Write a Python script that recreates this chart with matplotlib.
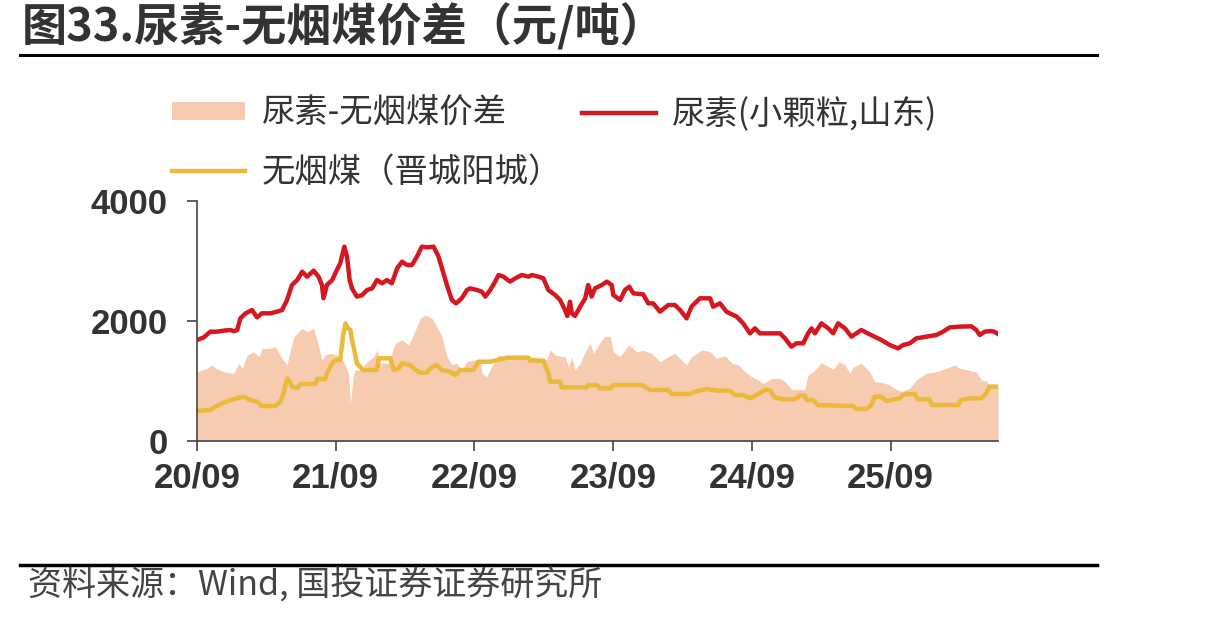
import matplotlib
matplotlib.use('Agg')
import matplotlib.pyplot as plt
import matplotlib.dates as mdates
from matplotlib.patches import Rectangle
from matplotlib.lines import Line2D
import pandas as pd

# 尿素(小颗粒,山东) 元/吨
urea_dates = ['2020-09-01', '2020-09-19', '2020-10-06', '2020-10-24', '2020-11-10', '2020-11-28', '2020-12-07', '2020-12-16',
              '2020-12-24', '2021-01-07', '2021-01-24', '2021-02-06', '2021-02-19', '2021-03-13', '2021-03-31', '2021-04-13',
              '2021-04-26', '2021-05-09', '2021-05-23', '2021-06-05', '2021-06-18', '2021-07-05', '2021-07-18', '2021-07-27',
              '2021-07-31', '2021-08-09', '2021-08-23', '2021-08-31', '2021-09-13', '2021-09-24', '2021-10-01', '2021-10-08',
              '2021-10-14', '2021-10-27', '2021-11-09', '2021-11-23', '2021-12-06', '2021-12-19', '2022-01-01', '2022-01-14',
              '2022-01-27', '2022-02-10', '2022-02-23', '2022-03-08', '2022-03-21', '2022-04-03', '2022-04-16', '2022-04-29',
              '2022-05-17', '2022-05-30', '2022-06-12', '2022-06-21', '2022-07-04', '2022-07-15', '2022-07-30', '2022-08-13',
              '2022-08-21', '2022-09-08', '2022-09-21', '2022-09-30', '2022-10-13', '2022-10-26', '2022-11-04', '2022-11-17',
              '2022-12-04', '2022-12-18', '2023-01-04', '2023-01-22', '2023-01-31', '2023-02-17', '2023-03-02', '2023-03-15',
              '2023-04-02', '2023-04-15', '2023-04-28', '2023-05-04', '2023-05-11', '2023-05-16', '2023-05-24', '2023-06-07',
              '2023-06-20', '2023-06-28', '2023-07-07', '2023-07-16', '2023-08-03', '2023-08-16', '2023-08-29', '2023-09-02',
              '2023-09-20', '2023-10-03', '2023-10-14', '2023-10-25', '2023-11-20', '2023-12-03', '2023-12-16', '2024-01-03',
              '2024-01-25', '2024-02-11', '2024-02-25', '2024-03-13', '2024-03-26', '2024-04-17', '2024-05-14', '2024-05-22',
              '2024-06-09', '2024-06-26', '2024-07-23', '2024-08-09', '2024-08-27', '2024-09-09', '2024-09-22', '2024-10-18',
              '2024-11-14', '2024-11-27', '2024-12-14', '2024-12-27', '2025-01-14', '2025-01-27', '2025-02-05', '2025-02-14',
              '2025-03-03', '2025-03-21', '2025-04-03', '2025-04-16', '2025-05-04', '2025-05-21', '2025-06-03', '2025-06-16',
              '2025-07-03', '2025-07-21', '2025-08-08', '2025-08-30', '2025-09-21', '2025-10-04', '2025-10-22', '2025-11-08',
              '2025-12-04', '2025-12-31', '2026-01-17', '2026-02-04', '2026-03-02', '2026-04-02', '2026-04-15', '2026-04-24',
              '2026-05-07', '2026-05-24', '2026-06-02', '2026-06-11']
urea_price = [1683, 1728, 1822, 1822, 1839, 1850, 1830, 1850,
              2044, 2128, 2183, 2061, 2128, 2128, 2156, 2183,
              2350, 2600, 2683, 2822, 2739, 2839, 2739, 2600,
              2378, 2600, 2683, 2794, 2961, 3239, 3072, 2683,
              2544, 2406, 2428, 2517, 2544, 2683, 2628, 2683,
              2628, 2878, 2989, 2933, 2933, 3072, 3239, 3228,
              3239, 3072, 2794, 2600, 2350, 2294, 2378, 2517,
              2544, 2517, 2489, 2406, 2517, 2656, 2767, 2739,
              2656, 2711, 2767, 2739, 2767, 2739, 2711, 2517,
              2433, 2350, 2183, 2083, 2322, 2128, 2083, 2239,
              2378, 2600, 2406, 2544, 2600, 2656, 2600, 2433,
              2350, 2517, 2572, 2461, 2444, 2294, 2294, 2156,
              2267, 2267, 2183, 2044, 2239, 2378, 2378, 2239,
              2294, 2156, 2072, 1961, 1794, 1878, 1794, 1794,
              1794, 1711, 1572, 1628, 1628, 1794, 1878, 1794,
              1961, 1878, 1794, 1961, 1878, 1739, 1794, 1850,
              1794, 1739, 1683, 1600, 1544, 1600, 1628, 1711,
              1739, 1767, 1822, 1894, 1906, 1911, 1850, 1767,
              1822, 1833, 1820, 1783]

# 无烟煤(晋城阳城) 元/吨
coal_dates = ['2020-09-01', '2020-10-06', '2020-10-20', '2020-11-02', '2020-11-24', '2020-12-16', '2021-01-02', '2021-01-20',
              '2021-02-06', '2021-02-19', '2021-03-26', '2021-04-09', '2021-04-17', '2021-04-26', '2021-05-03', '2021-05-09',
              '2021-05-23', '2021-05-31', '2021-07-10', '2021-07-14', '2021-08-05', '2021-08-09', '2021-08-23', '2021-08-31',
              '2021-09-13', '2021-09-21', '2021-09-27', '2021-10-03', '2021-10-10', '2021-10-14', '2021-10-20', '2021-10-27',
              '2021-11-04', '2021-11-13', '2021-12-19', '2021-12-23', '2022-01-23', '2022-02-01', '2022-02-14', '2022-02-23',
              '2022-03-16', '2022-03-30', '2022-04-12', '2022-04-29', '2022-05-08', '2022-05-25', '2022-06-07', '2022-06-29',
              '2022-07-13', '2022-07-26', '2022-08-30', '2022-09-12', '2022-10-13', '2022-11-26', '2023-01-22', '2023-01-26',
              '2023-03-02', '2023-03-15', '2023-03-20', '2023-04-15', '2023-04-19', '2023-06-24', '2023-06-28', '2023-07-21',
              '2023-07-29', '2023-08-25', '2023-09-02', '2023-11-16', '2023-12-08', '2024-01-25', '2024-02-03', '2024-03-21',
              '2024-04-04', '2024-05-05', '2024-05-31', '2024-07-05', '2024-07-18', '2024-08-09', '2024-08-27', '2024-09-13',
              '2024-10-05', '2024-10-18', '2024-10-31', '2024-11-22', '2024-12-23', '2025-01-05', '2025-01-18', '2025-01-23',
              '2025-02-09', '2025-02-22', '2025-05-25', '2025-06-03', '2025-06-30', '2025-07-13', '2025-07-21', '2025-08-08',
              '2025-08-21', '2025-09-03', '2025-09-25', '2025-10-04', '2025-10-13', '2025-11-04', '2025-11-12', '2025-12-13',
              '2025-12-18', '2026-02-26', '2026-03-06', '2026-03-28', '2026-04-28', '2026-05-11', '2026-05-20', '2026-06-11']
coal_price = [500, 517, 572, 617, 672, 711, 739, 683,
              656, 583, 583, 656, 794, 1044, 1000, 906,
              878, 950, 950, 1033, 1033, 1128, 1294, 1350,
              1350, 1767, 1961, 1878, 1850, 1683, 1517, 1294,
              1239, 1183, 1183, 1378, 1378, 1183, 1211, 1294,
              1267, 1183, 1139, 1139, 1211, 1267, 1183, 1156,
              1100, 1183, 1183, 1322, 1322, 1389, 1389, 1339,
              1339, 1128, 989, 989, 894, 894, 933, 933,
              878, 878, 933, 933, 850, 850, 783, 783,
              822, 867, 839, 839, 767, 767, 711, 767,
              850, 850, 728, 694, 694, 756, 756, 683,
              683, 600, 583, 533, 533, 600, 739, 739,
              667, 683, 711, 767, 783, 783, 694, 694,
              600, 600, 683, 711, 711, 794, 906, 906]

# 尿素-无烟煤价差 元/吨
spread_dates = ['2020-09-01', '2020-09-28', '2020-10-11', '2020-10-20', '2020-11-10', '2020-12-07', '2020-12-20', '2020-12-29',
                '2021-01-11', '2021-01-28', '2021-02-11', '2021-02-19', '2021-03-09', '2021-03-26', '2021-04-13', '2021-04-26',
                '2021-05-05', '2021-05-14', '2021-06-05', '2021-06-18', '2021-07-05', '2021-07-14', '2021-07-27', '2021-08-05',
                '2021-08-18', '2021-09-05', '2021-09-22', '2021-10-05', '2021-10-10', '2021-10-17', '2021-10-23', '2021-11-05',
                '2021-11-23', '2021-12-10', '2021-12-19', '2021-12-28', '2022-01-18', '2022-02-05', '2022-02-23', '2022-03-12',
                '2022-03-30', '2022-04-12', '2022-04-25', '2022-05-13', '2022-05-26', '2022-06-08', '2022-06-21', '2022-07-04',
                '2022-07-17', '2022-07-30', '2022-08-13', '2022-08-30', '2022-09-17', '2022-09-21', '2022-10-04', '2022-10-17',
                '2022-11-04', '2022-11-17', '2022-12-04', '2022-12-22', '2023-01-13', '2023-01-31', '2023-02-21', '2023-03-11',
                '2023-03-20', '2023-04-02', '2023-04-28', '2023-05-07', '2023-05-16', '2023-05-24', '2023-06-07', '2023-06-20',
                '2023-07-03', '2023-07-12', '2023-07-25', '2023-08-11', '2023-08-25', '2023-09-02', '2023-09-20', '2023-10-12',
                '2023-11-03', '2023-11-20', '2023-12-12', '2024-01-03', '2024-01-25', '2024-02-11', '2024-02-29', '2024-03-13',
                '2024-03-26', '2024-04-22', '2024-05-14', '2024-05-31', '2024-06-22', '2024-07-10', '2024-07-27', '2024-08-14',
                '2024-08-31', '2024-09-18', '2024-10-01', '2024-10-23', '2024-11-14', '2024-11-27', '2024-12-14', '2025-01-05',
                '2025-01-18', '2025-01-27', '2025-02-14', '2025-03-03', '2025-03-21', '2025-04-03', '2025-04-19', '2025-05-04',
                '2025-05-17', '2025-05-25', '2025-06-16', '2025-07-08', '2025-07-21', '2025-08-08', '2025-08-30', '2025-09-12',
                '2025-09-30', '2025-10-22', '2025-11-08', '2025-12-04', '2025-12-31', '2026-01-26', '2026-02-17', '2026-03-02',
                '2026-03-24', '2026-04-15', '2026-04-28', '2026-05-11', '2026-05-24', '2026-06-11']
spread = [1156, 1211, 1267, 1211, 1156, 1128, 1294, 1211,
          1433, 1489, 1406, 1544, 1544, 1572, 1378, 1267,
          1517, 1739, 1878, 1822, 1878, 1683, 1350, 1433,
          1461, 1433, 1322, 1128, 628, 1072, 1183, 1183,
          1322, 1406, 1517, 1294, 1294, 1628, 1683, 1600,
          1850, 2044, 2100, 2044, 1906, 1739, 1406, 1267,
          1300, 1183, 1322, 1350, 1350, 1128, 1072, 1239,
          1433, 1400, 1350, 1406, 1370, 1406, 1378, 1350,
          1517, 1433, 1400, 1239, 1406, 1183, 1294, 1489,
          1628, 1461, 1600, 1750, 1739, 1489, 1406, 1600,
          1489, 1510, 1461, 1322, 1406, 1461, 1350, 1267,
          1400, 1517, 1489, 1378, 1420, 1294, 1270, 1156,
          1072, 1017, 961, 1044, 1044, 990, 861, 861,
          850, 1100, 1183, 1306, 1239, 1200, 1322, 1270,
          1128, 1230, 1294, 1156, 989, 980, 933, 878,
          822, 880, 1017, 1128, 1156, 1211, 1267, 1210,
          1183, 1150, 1017, 1000, 906, 906]

tick_dates = ['2020-09-01', '2021-09-01', '2022-09-01', '2023-09-01', '2024-09-01', '2025-09-01']

RED = '#D5181F'
YELLOW = '#EBBA3A'
FILL = '#F7CBAF'
TXT = '#333333'

plt.rcParams['font.family'] = ['Noto Sans CJK SC', 'DejaVu Sans']

fig = plt.figure(figsize=(12.13, 6.19), dpi=100)
ax = fig.add_axes([197 / 1213, 1 - 441 / 619, (998 - 197) / 1213, 240 / 619])

ud = pd.to_datetime(urea_dates)
cd = pd.to_datetime(coal_dates)
sd = pd.to_datetime(spread_dates)

ax.fill_between(sd, spread, 0, color=FILL, linewidth=0, zorder=1)
ax.plot(cd, coal_price, color=YELLOW, lw=3.2, zorder=2, solid_joinstyle='round')
ax.plot(ud, urea_price, color=RED, lw=3.2, zorder=3, solid_joinstyle='round')

ax.set_ylim(0, 4000)
ax.set_yticks([0, 2000, 4000])
ax.set_xlim(pd.Timestamp('2020-09-01'), pd.Timestamp('2026-06-11'))
ax.set_xticks(pd.to_datetime(tick_dates))
ax.xaxis.set_major_formatter(mdates.DateFormatter('%y/%m'))

for s in ['top', 'right']:
    ax.spines[s].set_visible(False)
for s in ['left', 'bottom']:
    ax.spines[s].set_color('#444444')
    ax.spines[s].set_linewidth(1.2)
    ax.spines[s].set_zorder(4)
ax.tick_params(axis='both', direction='out', length=7, width=1.2, color='#444444',
               labelsize=25, labelcolor=TXT)
ax.tick_params(axis='x', pad=8)
ax.tick_params(axis='y', pad=14)
for lab in ax.get_xticklabels() + ax.get_yticklabels():
    lab.set_fontfamily(['Liberation Sans', 'DejaVu Sans'])
    lab.set_fontweight('bold')

# legend
handles = [Rectangle((0, 0), 1, 1, facecolor=FILL, edgecolor='none'),
           Line2D([], [], color=YELLOW, lw=3.2),
           Line2D([], [], color=RED, lw=3.2)]
labels = ['尿素-无烟煤价差', '无烟煤（晋城阳城）', '尿素(小颗粒,山东)']
fig.legend(handles, labels, ncol=2, loc='upper left', bbox_to_anchor=(142 / 1213, 1 - 66 / 619),
           frameon=False, fontsize=24, labelcolor=TXT, handlelength=2.2, handleheight=0.45,
           handletextpad=0.5, columnspacing=0.6, labelspacing=0.7)

# title and source
fig.text(22 / 1213, 1 - 28 / 619, '图33.尿素-无烟煤价差（元/吨）', fontsize=32.5, fontweight='bold',
         color=TXT, va='center', ha='left')
fig.add_artist(Line2D([20 / 1213, 1097 / 1213], [1 - 55 / 619, 1 - 55 / 619], color='black', lw=2.2))
fig.add_artist(Line2D([20 / 1213, 1097 / 1213], [1 - 565 / 619, 1 - 565 / 619], color='black', lw=2.5))
fig.text(28 / 1213, 1 - 586 / 619, '资料来源：Wind, 国投证券证券研究所', fontsize=24.5, style='italic',
         color='#444444', va='center', ha='left', fontweight='light')

fig.savefig('out.png', dpi=100)
